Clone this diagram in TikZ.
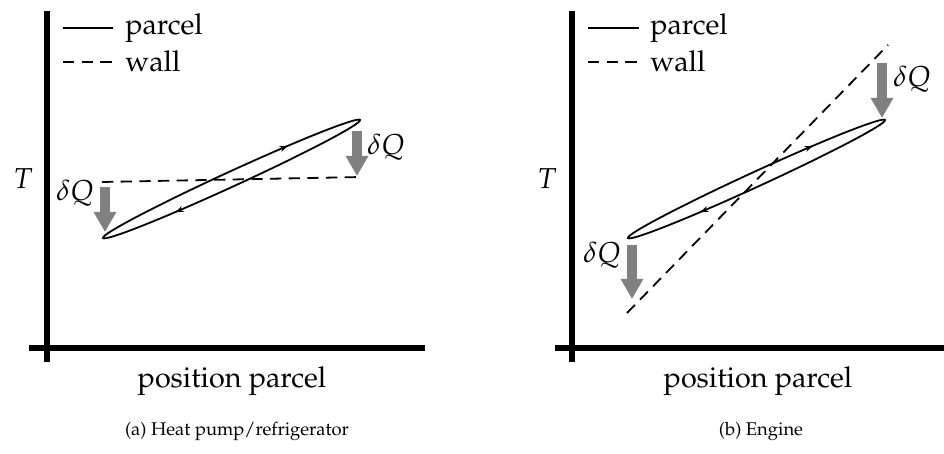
\documentclass[tikz,border=0pt]{standalone}
\usepackage[T1]{fontenc}
\usepackage{mathpazo}
\usetikzlibrary{arrows.meta,decorations.markings}
\definecolor{heatgray}{RGB}{128,128,128}
\begin{document}
\begin{tikzpicture}[x=0.75pt,y=0.75pt,
  axis/.style={line width=4.6pt},
  parcelline/.style={line width=1.35pt},
  wallline/.style={line width=1.35pt,dash pattern=on 8.5pt off 5.5pt},
  heat/.style={draw=heatgray,line width=7.5pt,-{Triangle[length=15pt,width=16pt]}},
  lbl/.style={inner sep=0pt,font=\fontsize{21.6}{26}\selectfont},
  captext/.style={inner sep=0pt,font=\fontfamily{ppl}\fontsize{13.8}{17}\selectfont},
  parcelloop/.style={parcelline,postaction={decorate},
    decoration={markings,
      mark=at position 0.15 with {\arrow{Stealth[length=6pt,width=4.5pt,reversed]}},
      mark=at position 0.65 with {\arrow{Stealth[length=6pt,width=4.5pt,reversed]}}}}
]
\useasboundingbox (0,0) rectangle (944,453);
\fill[white] (0,0) rectangle (944,453);

% ---------- panel (a) ----------
\coordinate (a-vt) at (47,442);
\coordinate (a-vb) at (47,91);
\coordinate (a-hl) at (29,105);
\coordinate (a-hr) at (425,105);
\draw[axis] (a-vt) -- (a-vb);
\draw[axis] (a-hl) -- (a-hr);

\coordinate (a-l1s) at (63,425); \coordinate (a-l1e) at (113,425);
\coordinate (a-l2s) at (63,391); \coordinate (a-l2e) at (113,391);
\draw[parcelline] (a-l1s) -- (a-l1e);
\draw[wallline] (a-l2s) -- (a-l2e);
\node[lbl,anchor=base west] (a-parcel) at (125,418) {parcel};
\node[lbl,anchor=base west] (a-wall) at (125,381) {wall};

\node[lbl] (a-T) at (23,274) {$T$};

\coordinate (a-w1) at (102,271);
\coordinate (a-w2) at (362,276);
\draw[wallline] (a-w1) -- (a-w2);

\begin{scope}[shift={(231.5,274)},rotate=24.66]
  \draw[parcelloop] (0,0) ellipse [x radius=106.05pt, y radius=5.6pt];
\end{scope}

\coordinate (a-q1s) at (105,266); \coordinate (a-q1e) at (105,221);
\coordinate (a-q2s) at (357,322); \coordinate (a-q2e) at (357,277);
\draw[heat] (a-q1s) -- (a-q1e);
\draw[heat] (a-q2s) -- (a-q2e);
\node[lbl] (a-dq1) at (75,260) {$\delta Q$};
\node[lbl] (a-dq2) at (386,306) {$\delta Q$};

\node[lbl,anchor=base] (a-xlab) at (232,66) {position parcel};
\node[captext,anchor=base] (a-cap) at (237,18) {(a) Heat pump/refrigerator};

% ---------- panel (b) ----------
\coordinate (b-vt) at (572,442);
\coordinate (b-vb) at (572,91);
\coordinate (b-hl) at (555,105);
\coordinate (b-hr) at (950,105);
\draw[axis] (b-vt) -- (b-vb);
\draw[axis] (b-hl) -- (b-hr);

\coordinate (b-l1s) at (588,425); \coordinate (b-l1e) at (639,425);
\coordinate (b-l2s) at (588,391); \coordinate (b-l2e) at (639,391);
\draw[parcelline] (b-l1s) -- (b-l1e);
\draw[wallline] (b-l2s) -- (b-l2e);
\node[lbl,anchor=base west] (b-parcel) at (650,418) {parcel};
\node[lbl,anchor=base west] (b-wall) at (650,381) {wall};

\node[lbl] (b-T) at (547,274) {$T$};

\coordinate (b-w1) at (627,140);
\coordinate (b-w2) at (888,408);
\draw[wallline] (b-w1) -- (b-w2);

\begin{scope}[shift={(756.5,274)},rotate=24.66]
  \draw[parcelloop] (0,0) ellipse [x radius=106.05pt, y radius=5.6pt];
\end{scope}

\coordinate (b-q1s) at (632,208); \coordinate (b-q1e) at (632,154);
\coordinate (b-q2s) at (882,390); \coordinate (b-q2e) at (882,335);
\draw[heat] (b-q1s) -- (b-q1e);
\draw[heat] (b-q2s) -- (b-q2e);
\node[lbl] (b-dq1) at (602,198) {$\delta Q$};
\node[lbl] (b-dq2) at (912,374) {$\delta Q$};

\node[lbl,anchor=base] (b-xlab) at (758,66) {position parcel};
\node[captext,anchor=base] (b-cap) at (761,18) {(b) Engine};
\end{tikzpicture}
\end{document}
